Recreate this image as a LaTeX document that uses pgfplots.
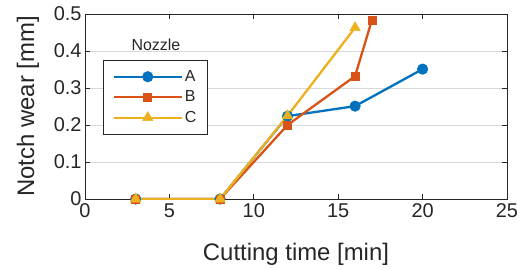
\documentclass[border=0pt]{standalone}
\usepackage{fontspec}
\setmainfont{Liberation Sans}
\usepackage{pgfplots}
\pgfplotsset{compat=1.18}
\definecolor{mA}{rgb}{0,0.447,0.741}
\definecolor{mB}{rgb}{0.85,0.325,0.098}
\definecolor{mC}{rgb}{0.929,0.694,0.125}
\definecolor{axc}{rgb}{0.15,0.15,0.15}
\begin{document}
\begin{tikzpicture}
\begin{axis}[name=ax, scale only axis, width=422bp, height=185bp,
  xmin=0, xmax=25, ymin=0, ymax=0.5,
  xtick={0,5,10,15,20,25}, ytick={0,0.1,0.2,0.3,0.4,0.5},
  yticklabel style={/pgf/number format/fixed, /pgf/number format/precision=1},
  /pgf/number format/assume math mode=true,
  tick align=inside, major tick length=5bp,
  ymajorgrids, grid style={black!15, line width=0.7bp},
  axis line style={axc, line width=0.9bp},
  tick style={axc, line width=0.9bp},
  ticklabel style={font=\fontsize{20}{22}\selectfont, text=axc},
  xticklabel style={yshift=-1bp},
  label style={font=\fontsize{24}{26}\selectfont, text=axc},
  xlabel={Cutting time [min]}, ylabel={Notch wear [mm]},
  xlabel style={at={(axis description cs:0.5,-0.30)}, anchor=center},
  ylabel style={at={(axis description cs:-0.135,0.5)}, anchor=center},
  legend style={at={(axis description cs:0.043,0.751)}, anchor=north west,
    font=\fontsize{16}{18}\selectfont, text=axc, draw=axc, line width=0.9bp,
    inner xsep=9bp, inner ysep=8bp, row sep=4bp},
  legend cell align=left,
  legend image code/.code={\draw[mark repeat=2, mark phase=2] plot coordinates {(0bp,0bp) (34bp,0bp) (68bp,0bp)};},
]
\addplot[mA, line width=2.3bp, mark=*, mark size=5.3bp, mark options={solid, fill=mA, line width=0.5bp}]
  coordinates {(3,0) (8,0) (12,0.224) (16,0.251) (20,0.351)};
\addlegendentry{A}
\addplot[mB, line width=2.3bp, mark=square*, mark size=4bp, mark options={solid, fill=mB, line width=0.5bp}]
  coordinates {(3,0) (8,0) (12,0.200) (16,0.332) (17,0.484)};
\addlegendentry{B}
\addplot[mC, line width=2.3bp, mark=triangle*, mark size=6bp, mark options={solid, fill=mC, line width=0.5bp}]
  coordinates {(3,0) (8,0) (12,0.225) (16,0.463)};
\addlegendentry{C}
\node[font=\fontsize{16}{18}\selectfont, text=axc] at (rel axis cs:0.168,0.832) {Nozzle};
\end{axis}
\pgfresetboundingbox
\path ([shift={(-85bp,-71bp)}]ax.south west) rectangle ([shift={(14bp,14bp)}]ax.north east);
\end{tikzpicture}
\end{document}
